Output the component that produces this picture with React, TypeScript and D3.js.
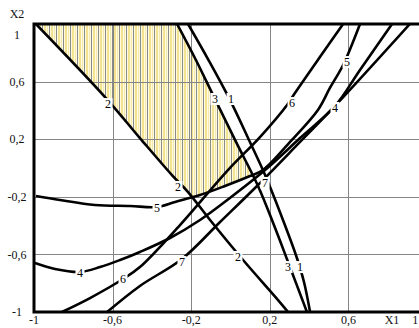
import React, { useEffect, useRef } from 'react'
import * as d3 from 'd3'

const W = 419
const H = 328

// grid and tick labels
const xGrid = [-0.6, -0.2, 0.2, 0.6]
const yGrid = [0.6, 0.2, -0.2, -0.6]
const xTickVals = [-1, -0.6, -0.2, 0.2, 0.6, 0.94]
const xTickText = ['-1', '-0,6', '-0,2', '0,2', '0,6', '1']
const yTickVals = [1, 0.6, 0.2, -0.2, -0.6, -1]
const yTickText = ['1', '0,6', '0,2', '-0,2', '-0,6', '-1']

// constraint curves, [x1, x2]
const curve1 = [[-0.216, 1], [-0.109, 0.743], [0.003, 0.458], [0.094, 0.194], [0.176, -0.049], [0.267, -0.361], [0.338, -0.625], [0.374, -0.792], [0.405, -1]]
const curve2 = [[-0.99, 1], [-0.634, 0.486], [-0.461, 0.208], [-0.298, -0.049], [-0.216, -0.167], [-0.104, -0.361], [0.064, -0.639], [0.242, -0.917], [0.293, -1]]
const curve3 = [[-0.272, 1], [-0.176, 0.75], [-0.079, 0.479], [0.028, 0.181], [0.14, -0.125], [0.221, -0.396], [0.293, -0.653], [0.389, -1]]
const curve4 = [[-0.995, -0.66], [-0.893, -0.701], [-0.766, -0.722], [-0.664, -0.688], [-0.562, -0.639], [-0.461, -0.583], [-0.308, -0.486], [-0.155, -0.361], [-0.003, -0.208], [0.176, -0.014], [0.354, 0.208], [0.532, 0.431], [0.659, 0.681], [0.822, 1]]
const curve5 = [[-0.99, -0.194], [-0.868, -0.222], [-0.69, -0.257], [-0.511, -0.264], [-0.374, -0.271], [-0.282, -0.236], [-0.155, -0.188], [-0.028, -0.125], [0.099, -0.056], [0.165, -0.014], [0.303, 0.181], [0.445, 0.403], [0.506, 0.556], [0.573, 0.715], [0.659, 1]]
const curve6 = [[-0.858, -1], [-0.715, -0.903], [-0.547, -0.771], [-0.461, -0.688], [-0.257, -0.396], [-0.013, -0.014], [0.15, 0.215], [0.288, 0.438], [0.328, 0.521], [0.455, 0.771], [0.573, 1]]
const curve7 = [[-0.628, -1], [-0.461, -0.819], [-0.247, -0.632], [-0.053, -0.375], [0.14, -0.118], [0.354, 0.181], [0.532, 0.431], [0.913, 1]]

// curve numbers written on the lines: [text, x1, x2]
const curveLabels = [
  ['1', 0.003, 0.479], ['1', 0.354, -0.688],
  ['2', -0.623, 0.444], ['2', -0.267, -0.132], ['2', 0.038, -0.618],
  ['3', -0.079, 0.479], ['3', 0.293, -0.688],
  ['4', -0.766, -0.729], ['4', 0.532, 0.417],
  ['5', -0.374, -0.278], ['5', 0.593, 0.736],
  ['6', -0.547, -0.771], ['6', 0.313, 0.451],
  ['7', -0.247, -0.653], ['7', 0.176, -0.104],
]

const FONT = "'Liberation Serif', 'Times New Roman', serif"

export default function App() {
  const ref = useRef(null)

  useEffect(() => {
    const svg = d3.select(ref.current)
    svg.selectAll('*').remove()

    const x = d3.scaleLinear().domain([-1, 1]).range([34, 427])
    const y = d3.scaleLinear().domain([-1, 1]).range([312, 24])
    const line = d3.line().x((d) => x(d[0])).y((d) => y(d[1])).curve(d3.curveCatmullRom.alpha(0.5))

    svg.append('rect').attr('width', W).attr('height', H).attr('fill', '#fff')

    const defs = svg.append('defs')
    const pat = defs.append('pattern').attr('id', 'hatch').attr('patternUnits', 'userSpaceOnUse')
      .attr('width', 7).attr('height', 10)
    pat.append('rect').attr('width', 7).attr('height', 10).attr('fill', '#fffbe0')
    pat.append('rect').attr('x', 2).attr('width', 2).attr('height', 10).attr('fill', '#f3e290')
    pat.append('rect').attr('x', 5).attr('width', 1).attr('height', 10).attr('fill', '#f6e9ad')
    pat.append('rect').attr('x', 0).attr('width', 1).attr('height', 10).attr('fill', '#8a8a8a')

    // feasible region: above 5, right of 2, left of 3
    defs.append('clipPath').attr('id', 'c5').append('path')
      .attr('d', line(curve5) + `L${x(-1)},${y(1)}Z`)
    defs.append('clipPath').attr('id', 'c2').append('path')
      .attr('d', line(curve2) + `L${x(1)},${y(-1)}L${x(1)},${y(1)}Z`)
    defs.append('clipPath').attr('id', 'c3').append('path')
      .attr('d', line(curve3) + `L${x(-1)},${y(-1)}L${x(-1)},${y(1)}Z`)
    defs.append('clipPath').attr('id', 'plot').append('rect')
      .attr('x', x(-1)).attr('y', y(1)).attr('width', x(1) - x(-1)).attr('height', y(-1) - y(1))

    svg.append('g').attr('clip-path', 'url(#c5)')
      .append('g').attr('clip-path', 'url(#c2)')
      .append('rect').attr('clip-path', 'url(#c3)')
      .attr('x', x(-1)).attr('y', y(1)).attr('width', x(1) - x(-1)).attr('height', y(-1) - y(1))
      .attr('fill', 'url(#hatch)')

    // grid
    const grid = svg.append('g').attr('stroke', '#858585').attr('stroke-width', 1)
    grid.selectAll('.gx').data(xGrid).enter().append('line')
      .attr('x1', (d) => Math.round(x(d)) + 0.5).attr('x2', (d) => Math.round(x(d)) + 0.5)
      .attr('y1', y(1)).attr('y2', y(-1))
    grid.selectAll('.gy').data(yGrid).enter().append('line')
      .attr('y1', (d) => Math.round(y(d)) + 0.5).attr('y2', (d) => Math.round(y(d)) + 0.5)
      .attr('x1', x(-1)).attr('x2', W)

    // curves
    const curves = svg.append('g').attr('clip-path', 'url(#plot)')
    ;[curve1, curve2, curve3, curve4, curve5, curve6, curve7].forEach((c) => {
      curves.append('path').attr('d', line(c)).attr('fill', 'none')
        .attr('stroke', '#000').attr('stroke-width', 2.6)
    })

    // curve numbers on white
    const lab = svg.append('g').attr('font-family', FONT).attr('font-size', 12)
    lab.selectAll('rect').data(curveLabels).enter().append('rect')
      .attr('x', (d) => x(d[1]) - 4.5).attr('y', (d) => y(d[2]) - 6)
      .attr('width', 9).attr('height', 12).attr('fill', '#fff')
    lab.selectAll('text').data(curveLabels).enter().append('text')
      .attr('x', (d) => x(d[1])).attr('y', (d) => y(d[2]))
      .attr('dy', '0.35em').attr('text-anchor', 'middle').text((d) => d[0])

    // frame (left, top, bottom)
    const frame = svg.append('g').attr('stroke', '#000').attr('stroke-width', 3).attr('fill', 'none')
    frame.append('path').attr('d', `M${W},${y(1)}H${x(-1)}V${y(-1)}H${W}`)

    // tick labels
    const ticks = svg.append('g').attr('font-family', FONT).attr('font-size', 12).attr('fill', '#111')
    ticks.selectAll('.ty').data(yTickVals).enter().append('text')
      .attr('x', 17).attr('y', (d, i) => y(d) + (i === 0 ? 11 : 0))
      .attr('dy', '0.35em').attr('text-anchor', 'middle')
      .text((d, i) => yTickText[i])
    ticks.selectAll('.tx').data(xTickVals).enter().append('text')
      .attr('x', (d) => x(d)).attr('y', 324)
      .attr('text-anchor', 'middle')
      .text((d, i) => xTickText[i])
    ticks.append('text').attr('x', x(0.822)).attr('y', 324).attr('text-anchor', 'middle').text('X1')
    ticks.append('text').attr('x', 17).attr('y', 18).attr('text-anchor', 'middle').text('X2')
  }, [])

  return <svg ref={ref} width={W} height={H} style={{ position: 'absolute', left: 0, top: 0 }} />
}
